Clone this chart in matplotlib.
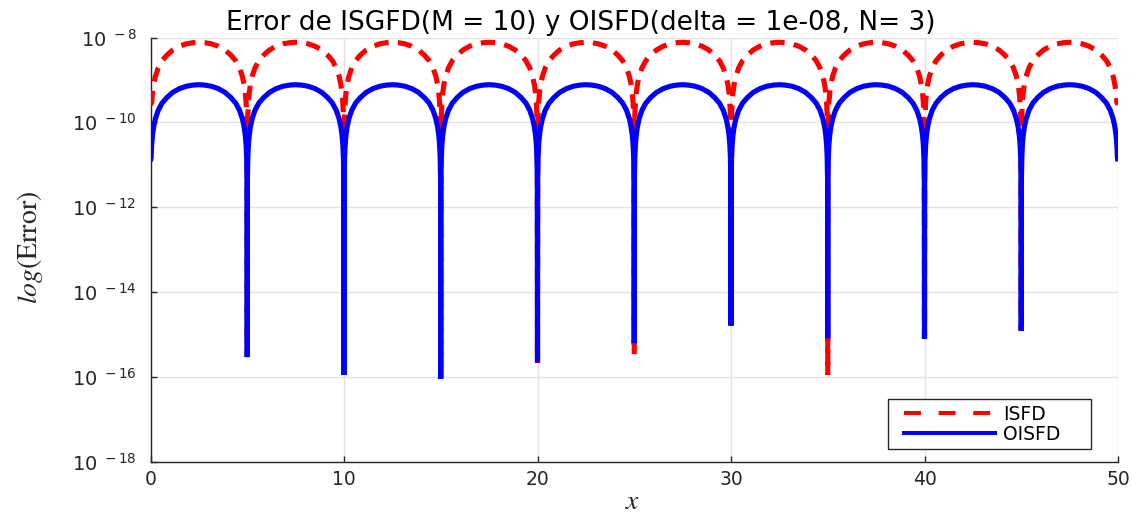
import numpy as np
import matplotlib
matplotlib.use("Agg")
import matplotlib.pyplot as plt
from matplotlib.lines import Line2D
from matplotlib.legend_handler import HandlerLine2D

# Nodes where each arch of the error curve starts/ends, and the error there
x_nodes = [0, 5, 10, 15, 20, 25, 30, 35, 40, 45, 50]
isfd_nodes = [2.6e-10, 3.0e-16, 1.2e-16, 9.5e-17, 2.1e-16, 3.4e-16,
              1.7e-15, 1.1e-16, 8.2e-16, 1.25e-15, 2.6e-10]
oisfd_nodes = [1.2e-11, 2.9e-16, 1.1e-16, 9.0e-17, 2.2e-16, 6.2e-16,
               1.6e-15, 8.1e-16, 7.8e-16, 1.2e-15, 1.2e-11]

# Peak error reached by each arch
isfd_peaks = [7.7e-9, 7.7e-9, 7.7e-9, 7.7e-9, 7.7e-9,
              7.7e-9, 7.7e-9, 7.7e-9, 7.7e-9, 7.7e-9]
oisfd_peaks = [7.7e-10, 7.7e-10, 7.7e-10, 7.7e-10, 7.7e-10,
               7.7e-10, 7.7e-10, 7.7e-10, 7.7e-10, 7.7e-10]

# Arch shape: distance from the nearest node and error relative to the peak
arch_offsets = [0.01, 0.03, 0.06, 0.10, 0.16, 0.25, 0.40, 0.60,
                0.85, 1.15, 1.50, 1.85, 2.20, 2.50]
arch_levels = [0.006, 0.019, 0.038, 0.063, 0.10, 0.156, 0.25, 0.37,
               0.50, 0.66, 0.81, 0.92, 0.98, 1.0]

x_ticks = [0, 10, 20, 30, 40, 50]
y_ticks = [1e-18, 1e-16, 1e-14, 1e-12, 1e-10, 1e-8]
y_tick_labels = [r'$\mathregular{10^{\ -18}}$', r'$\mathregular{10^{\ -16}}$',
                 r'$\mathregular{10^{\ -14}}$', r'$\mathregular{10^{\ -12}}$',
                 r'$\mathregular{10^{\ -10}}$', r'$\mathregular{10^{\ -8}}$']

title = 'Error de ISGFD(M = 10) y OISFD(delta = 1e-08, N= 3)'
series_names = ['ISFD', 'OISFD']


def build_curve(nodes, peaks):
    off = np.array(arch_offsets)
    lev = np.array(arch_levels)
    half = off[-1]
    xs, ys = [], []
    for i, peak in enumerate(peaks):
        x0, x1 = x_nodes[i], x_nodes[i + 1]
        span = x1 - x0
        px = np.concatenate([off, (2 * half - off[:-1])[::-1]]) * span / (2 * half)
        pv = np.concatenate([lev, lev[:-1][::-1]]) * peak
        keep = np.ones(len(px), dtype=bool)
        if i == 0:
            keep &= ~((px < span / 2) & (pv < nodes[0]))
        if i == len(peaks) - 1:
            keep &= ~((px > span / 2) & (pv < nodes[-1]))
        xs.append([x0])
        ys.append([nodes[i]])
        xs.append(x0 + px[keep])
        ys.append(pv[keep])
    xs.append([x_nodes[-1]])
    ys.append([nodes[-1]])
    return np.concatenate(xs), np.concatenate(ys)


isfd_x, isfd_y = build_curve(isfd_nodes, isfd_peaks)
oisfd_x, oisfd_y = build_curve(oisfd_nodes, oisfd_peaks)

W, H = 1132, 513
fig = plt.figure(figsize=(W / 100, H / 100), dpi=100)
ax = fig.add_axes([150.5 / W, 1 - 461.5 / H, 967.5 / W, 424 / H])

dark = '#262626'
lw = 3.7
ax.plot(isfd_x, isfd_y, color=(1, 0, 0), lw=lw, linestyle=(0, (2.8, 1.8)),
        dash_capstyle='butt', dash_joinstyle='bevel', zorder=3)
ax.plot(oisfd_x, oisfd_y, color=(0, 0, 1), lw=lw, solid_joinstyle='bevel',
        solid_capstyle='butt', zorder=4)

ax.set_yscale('log')
ax.set_xlim(0, 50)
ax.set_ylim(1e-18, 1e-8)
ax.set_xticks(x_ticks)
ax.set_xticklabels([str(t) for t in x_ticks])
ax.set_yticks(y_ticks)
ax.set_yticklabels(y_tick_labels)
ax.minorticks_off()

ax.grid(True, color='#e3e3e3', lw=1.0)
ax.set_axisbelow(True)
for side in ('top', 'right'):
    ax.spines[side].set_visible(False)
for side in ('left', 'bottom'):
    ax.spines[side].set_color(dark)
    ax.spines[side].set_linewidth(1.0)

ax.tick_params(axis='both', direction='in', length=4, width=1.0,
               colors=dark, labelcolor=dark)
ax.tick_params(axis='x', pad=6, labelsize=13.5)
ax.tick_params(axis='y', pad=10, labelsize=14)
for lab in ax.get_xticklabels() + ax.get_yticklabels():
    lab.set_family('DejaVu Sans')

fig.text(581 / W, 1 - 29.5 / H, title, ha='center', va='baseline',
         fontsize=19, family='DejaVu Sans', color='black')

plt.rcParams['mathtext.fontset'] = 'stix'
fig.text(30 / W, 1 - 247 / H, r'$log(\mathrm{Error})$', rotation=90,
         ha='center', va='center', fontsize=20, color=dark)
fig.text(633 / W, 1 - 501 / H, r'$x$', ha='center', va='center',
         fontsize=20, color=dark)

# Legend handles: inset from the frame edge
handles = [Line2D([], [], color=(1, 0, 0), lw=2.9, linestyle=(0, (4.2, 4.4)),
                  dash_capstyle='butt'),
           Line2D([], [], color=(0, 0, 1), lw=2.9)]
inset = HandlerLine2D(xpad=0.55)
leg = ax.legend(handles, series_names, loc='upper left', mode='expand',
                bbox_to_anchor=(888 / W, 1 - 445 / H, 203 / W, 46 / H),
                bbox_transform=fig.transFigure, borderaxespad=0,
                handlelength=5.4, handletextpad=0.43,
                handler_map={h: inset for h in handles},
                labelspacing=0.05, borderpad=0.3, fancybox=False,
                framealpha=1, prop={'family': 'DejaVu Sans', 'size': 13.5})
leg.get_frame().set_edgecolor(dark)
leg.get_frame().set_linewidth(1.0)

fig.savefig('out.png', dpi=100)
